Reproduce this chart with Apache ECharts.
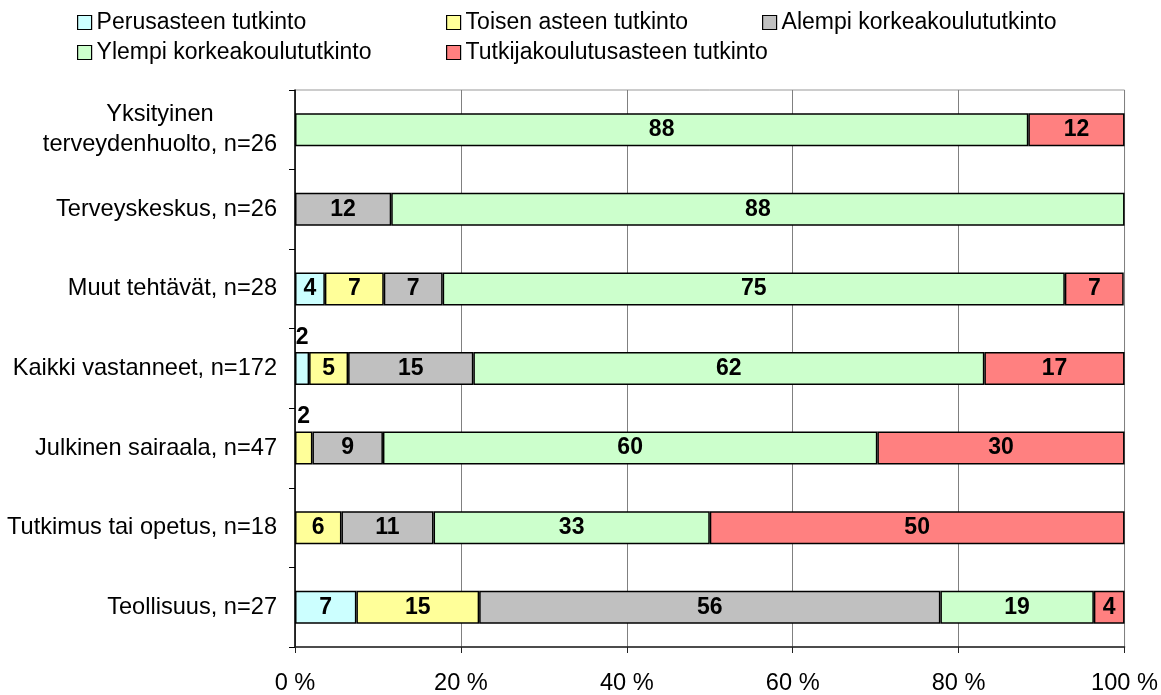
<!DOCTYPE html>
<html>
<head>
<meta charset="utf-8">
<title>Koulutus</title>
<script src="https://cdn.jsdelivr.net/npm/echarts@6/dist/echarts.min.js"></script>
<style>
  html, body { margin: 0; padding: 0; background: #fff; }
</style>
</head>
<body>
<div id="main" style="width: 1161px; height: 695px;"></div>
<script type="text/javascript">
// ryhmät ylhäältä alas
var categories = [
  'Yksityinen\nterveydenhuolto, n=26',
  'Terveyskeskus, n=26',
  'Muut tehtävät, n=28',
  'Kaikki vastanneet, n=172',
  'Julkinen sairaala, n=47',
  'Tutkimus tai opetus, n=18',
  'Teollisuus, n=27'
];
var seriesNames = [
  'Perusasteen tutkinto',
  'Toisen asteen tutkinto',
  'Alempi korkeakoulututkinto',
  'Ylempi korkeakoulututkinto',
  'Tutkijakoulutusasteen tutkinto'
];
// osuudet prosentteina (0 = ei palkkia)
var perus   = [0, 0, 3.6, 1.7, 0, 0, 7.4];
var toisen  = [0, 0, 7.1, 4.7, 2.1, 5.6, 14.8];
var alempi  = [0, 11.6, 7.1, 15.1, 8.5, 11.1, 55.6];
var ylempi  = [88.4, 88.4, 75.0, 61.6, 59.6, 33.3, 18.5];
var tutkija = [11.6, 0, 7.1, 16.9, 29.8, 50.0, 3.7];
var xTicks = [0, 20, 40, 60, 80, 100];

var colors = ['#ccffff', '#ffff99', '#c0c0c0', '#ccffcc', '#ff8080'];
var FONT = 'Liberation Sans, Arial, sans-serif';

var myChart = echarts.init(document.getElementById('main'));

function makeSeries(name, values, color) {
  return {
    name: name,
    type: 'bar',
    stack: 'total',
    barWidth: 33,
    itemStyle: { color: color, borderColor: '#000', borderWidth: 1.5 },
    label: {
      show: true,
      position: 'inside',
      color: '#000',
      fontFamily: FONT,
      fontSize: 23,
      fontWeight: 'bold',
      formatter: function (p) { return Math.round(p.value); }
    },
    data: values.map(function (v) {
      if (!v) return '-';
      if (v < 3) return { value: v, label: { position: 'top', distance: 3 } };
      return v;
    })
  };
}

// legendit omille paikoilleen
var legendPos = [[72, 6], [441, 6], [757, 6], [72, 36], [441, 36]];
var legends = seriesNames.map(function (n, i) {
  return {
    data: [n],
    left: legendPos[i][0],
    top: legendPos[i][1],
    icon: 'rect',
    itemWidth: 14,
    itemHeight: 14,
    itemStyle: { borderColor: '#000', borderWidth: 1.2 },
    textStyle: { fontFamily: FONT, fontSize: 23, color: '#000' },
    selectedMode: false
  };
});

var option = {
  animation: false,
  backgroundColor: '#fff',
  legend: legends,
  grid: {
    left: 295, right: 36, top: 90, bottom: 46,
    show: true, borderColor: '#999', borderWidth: 1
  },
  xAxis: {
    type: 'value',
    min: xTicks[0],
    max: xTicks[xTicks.length - 1],
    interval: 20,
    axisLine: { show: true, lineStyle: { color: '#222', width: 1.5 } },
    axisTick: { show: true, length: 6, lineStyle: { color: '#222' } },
    splitLine: { show: true, lineStyle: { color: '#808080', width: 1 } },
    axisLabel: {
      formatter: '{value} %',
      color: '#000', fontFamily: FONT, fontSize: 23.6, margin: 24
    }
  },
  yAxis: {
    type: 'category',
    inverse: true,
    data: categories,
    axisLine: { show: true, lineStyle: { color: '#000', width: 1.5 } },
    axisTick: { show: true, length: 6, lineStyle: { color: '#000' } },
    axisLabel: {
      margin: 18,
      formatter: function (v) {
        return v.split('\n').map(function (s) { return '{c|' + s + '}'; }).join('\n');
      },
      rich: {
        c: { align: 'center', color: '#000', fontFamily: FONT, fontSize: 23.6, lineHeight: 30 }
      }
    }
  },
  series: [
    makeSeries(seriesNames[0], perus, colors[0]),
    makeSeries(seriesNames[1], toisen, colors[1]),
    makeSeries(seriesNames[2], alempi, colors[2]),
    makeSeries(seriesNames[3], ylempi, colors[3]),
    makeSeries(seriesNames[4], tutkija, colors[4])
  ]
};

myChart.setOption(option);
</script>
</body>
</html>
